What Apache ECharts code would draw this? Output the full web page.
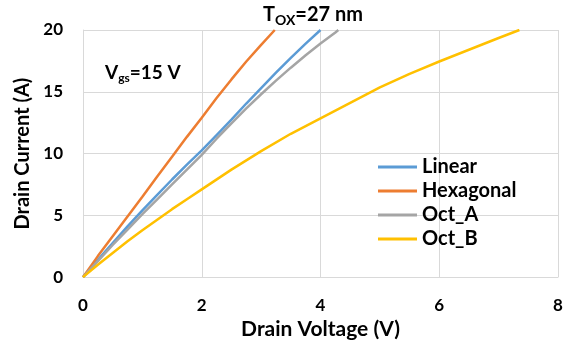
<!DOCTYPE html>
<html>
<head>
<meta charset="utf-8">
<script src="https://cdn.jsdelivr.net/npm/echarts@6/dist/echarts.min.js"></script>
<style>html,body{margin:0;padding:0;background:#fff;overflow:hidden;}#c{width:100vw;height:100vh;}</style>
</head>
<body>
<div id="c"></div>
<script>
const seriesNames = ['Linear', 'Hexagonal', 'Oct_A', 'Oct_B'];
const linearV = [0, 0.25, 0.5, 0.75, 1, 1.25, 1.5, 1.75, 2, 2.25, 2.5, 2.75, 3, 3.25, 3.5, 3.75, 4.0];
const linearI = [0, 1.4, 2.75, 4.1, 5.4, 6.65, 7.9, 9.1, 10.25, 11.5, 12.75, 14.05, 15.3, 16.55, 17.75, 18.9, 20.0];
const hexV = [0, 0.25, 0.5, 0.75, 1, 1.25, 1.5, 1.75, 2, 2.25, 2.5, 2.75, 3, 3.23];
const hexI = [0, 1.7, 3.3, 4.9, 6.5, 8.15, 9.75, 11.35, 12.9, 14.5, 16.0, 17.45, 18.8, 20.0];
const octAV = [0, 0.25, 0.5, 0.75, 1, 1.25, 1.5, 1.75, 2, 2.25, 2.5, 2.75, 3, 3.25, 3.5, 3.75, 4, 4.25, 4.3];
const octAI = [0, 1.3, 2.6, 3.85, 5.1, 6.3, 7.5, 8.7, 9.9, 11.2, 12.45, 13.65, 14.8, 15.9, 16.95, 17.95, 18.9, 19.8, 20.0];
const octBV = [0, 0.25, 0.5, 0.75, 1, 1.25, 1.5, 1.75, 2, 2.5, 3, 3.5, 4, 4.5, 5, 5.5, 6, 6.5, 7, 7.35];
const octBI = [0, 1.0, 1.95, 2.9, 3.8, 4.65, 5.5, 6.3, 7.1, 8.7, 10.2, 11.6, 12.85, 14.1, 15.35, 16.45, 17.45, 18.4, 19.35, 20.0];
const xTicks = [0, 2, 4, 6, 8];
const yTicks = [0, 5, 10, 15, 20];
const colors = ['#5B9BD5', '#ED7D31', '#A5A5A5', '#FFC000'];

const pairs = (xs, ys) => xs.map((x, i) => [x, ys[i]]);
const allData = [pairs(linearV, linearI), pairs(hexV, hexI), pairs(octAV, octAI), pairs(octBV, octBI)];
const FONT = 'Lato';

const chart = echarts.init(document.getElementById('c'), null, {renderer: 'canvas'});
chart.setOption({
  animation: false,
  color: colors,
  textStyle: {fontFamily: FONT},
  grid: {left: 83, right: 14, top: 30, bottom: 63, containLabel: false},
  xAxis: {
    type: 'value', min: xTicks[0], max: xTicks[xTicks.length - 1], interval: 2,
    name: 'Drain Voltage (V)', nameLocation: 'middle', nameGap: 38,
    nameTextStyle: {fontFamily: FONT, fontWeight: 'bold', fontSize: 21, color: '#000'},
    axisLine: {show: true, lineStyle: {color: '#D9D9D9', width: 1}},
    axisTick: {show: false},
    axisLabel: {fontFamily: FONT, fontWeight: 'bold', fontSize: 17, color: '#000', margin: 20},
    splitLine: {show: true, lineStyle: {color: '#D9D9D9', width: 1}}
  },
  yAxis: {
    type: 'value', min: yTicks[0], max: yTicks[yTicks.length - 1], interval: 5,
    name: 'Drain Current (A)', nameLocation: 'middle', nameGap: 47, nameRotate: 90,
    nameTextStyle: {fontFamily: FONT, fontWeight: 'bold', fontSize: 20, color: '#000'},
    axisLine: {show: true, lineStyle: {color: '#D9D9D9', width: 1}},
    axisTick: {show: false},
    axisLabel: {fontFamily: FONT, fontWeight: 'bold', fontSize: 17, color: '#000', margin: 20},
    splitLine: {show: true, lineStyle: {color: '#D9D9D9', width: 1}}
  },
  legend: {
    orient: 'vertical', left: 378, top: 157, padding: 0,
    itemWidth: 39, itemHeight: 3, itemGap: 4, icon: 'rect',
    textStyle: {fontFamily: FONT, fontWeight: 'bold', fontSize: 20, color: '#000', lineHeight: 20},
    data: seriesNames
  },
  graphic: [
    {type: 'text', x: 263, y: 3, style: {
      align: 'left', verticalAlign: 'top',
      rich: {
        a: {fontFamily: FONT, fontWeight: 'bold', fontSize: 20, fill: '#000'},
        b: {fontFamily: FONT, fontWeight: 'bold', fontSize: 14, fill: '#000', padding: [10, 0, 0, 0]}
      },
      text: '{a|T}{b|OX}{a|=27 nm}'
    }},
    {type: 'text', x: 105, y: 62, style: {
      align: 'left', verticalAlign: 'top',
      rich: {
        a: {fontFamily: FONT, fontWeight: 'bold', fontSize: 19, fill: '#000'},
        b: {fontFamily: FONT, fontWeight: 'bold', fontSize: 12, fill: '#000', padding: [10, 0, 0, 0]}
      },
      text: '{a|V}{b|gs}{a|=15 V}'
    }}
  ],
  series: seriesNames.map((n, i) => ({
    name: n, type: 'line', data: allData[i], showSymbol: false, symbol: 'none',
    lineStyle: {width: 2.5, color: colors[i]}, itemStyle: {color: colors[i]}
  }))
});
</script>
</body>
</html>
